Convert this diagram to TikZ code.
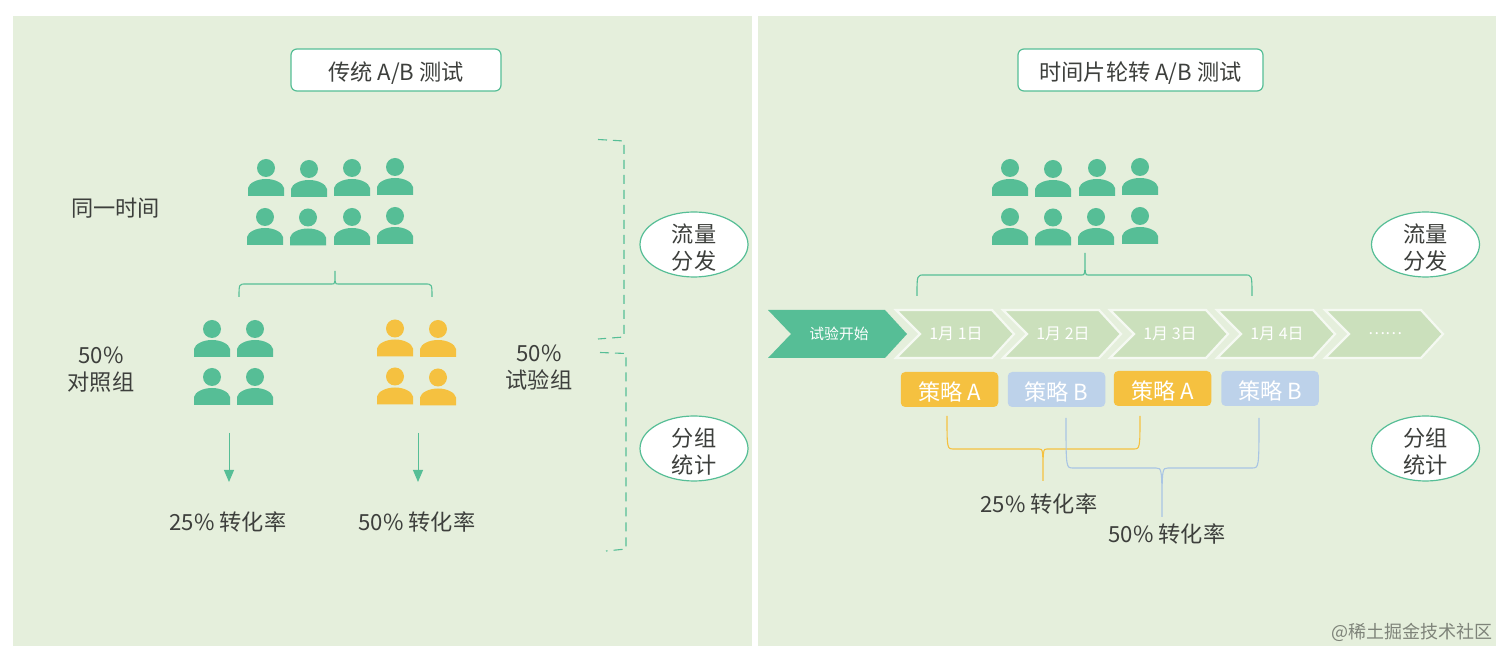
\documentclass[tikz,border=0pt]{standalone}
\usepackage{fontspec}
\setmainfont{Noto Sans CJK SC}
\usetikzlibrary{shapes.geometric,calc,arrows.meta}
\definecolor{panelbg}{HTML}{E5EFDC}
\definecolor{pgreen}{HTML}{56BE96}
\definecolor{pyellow}{HTML}{F5C140}
\definecolor{pblue}{HTML}{BDD2EA}
\definecolor{lineblue}{HTML}{A9C5E4}
\definecolor{chevlight}{HTML}{CBE0BC}
\definecolor{ink}{HTML}{3D3F3C}
\newcommand{\low}[1]{\rule{0pt}{#1pt}}
\tikzset{
  x=0.5pt,y=-0.5pt,
  person/.pic={
    \fill[pic actions] (0,-28) circle (9);
    \fill[pic actions] (-18,0) -- (-18,-8) .. controls (-17,-13) and (-9,-17) .. (0,-17)
      .. controls (9,-17) and (17,-13) .. (18,-8) -- (18,0) -- cycle;
  },
  panel/.style={fill=panelbg,draw=none},
  titlebox/.style={draw=pgreen,line width=0.6pt,fill=white,rounded corners=3pt,inner sep=0pt,text=ink,font=\fontsize{11.1}{13}\selectfont,minimum height=21pt},
  bubble/.style={draw=pgreen,line width=0.6pt,fill=white,ellipse,minimum width=54pt,minimum height=32.5pt,inner xsep=0pt,inner ysep=-2.5pt,align=center,text=ink,font=\fontsize{11.1}{13.5}\selectfont},
  label/.style={text=ink,inner sep=0pt,align=center,font=\fontsize{11.1}{13.5}\selectfont},
  chevtext/.style={text=white,inner sep=0pt,font=\fontsize{8}{9}\selectfont},
  chevlightstyle/.style={fill=chevlight,draw=white!80!chevlight,line width=1.1pt,line join=miter},
  chevstart/.style={fill=pgreen,draw=none},
  plan/.style={rounded corners=2.2pt,inner sep=0pt,minimum width=48.75pt,minimum height=17.5pt,text=white,font=\fontsize{11.1}{13}\selectfont},
  bracegreen/.style={draw=pgreen,line width=0.55pt},
  braceyellow/.style={draw=pyellow,line width=0.55pt},
  braceblue/.style={draw=lineblue,line width=0.55pt},
  dashline/.style={draw=pgreen,line width=0.55pt,dash pattern=on 4.5pt off 3pt},
  downarrow/.style={draw=pgreen,line width=0.5pt,-{Triangle[length=6pt,width=5pt]}},
}
% #1 name, #2 style, #3 left x, #4 right x, #5 tip x, #6 bar y, #7 ends y, #8 tip y, #9 flare
\newcommand{\curly}[9]{%
  \coordinate (#1L) at (#3,#7);
  \coordinate (#1R) at (#4,#7);
  \coordinate (#1M) at (#5,#6);
  \coordinate (#1T) at (#5,#8);
  \draw[#2] (#1L) .. controls (#1L|-#1M) and (#1L|-#1M) .. ($(#1L|-#1M)+(7,0)$)
    -- ($(#1M)+(-#9,0)$) .. controls (#1M) and (#1M) .. (#1T)
    .. controls (#1M) and (#1M) .. ($(#1M)+(#9,0)$)
    -- ($(#1R|-#1M)+(-7,0)$) .. controls (#1R|-#1M) and (#1R|-#1M) .. (#1R);
}
\newcommand{\chev}[4]{%
  \draw[#2] (#3,310) -- (#3+96,310) -- (#3+118,334) -- (#3+96,358) -- (#3,358) -- (#3+24,334) -- cycle;
  \node[chevtext] (#1) at (#3+60,333.5) {#4};
}
\begin{document}
\begin{tikzpicture}
\useasboundingbox (0,0) rectangle (1512,662);
\fill[white] (0,0) rectangle (1512,662);
\fill[panel] (13,16) rectangle (752,646);
\fill[panel] (758,16) rectangle (1496,646);
% titles
\node[titlebox,minimum width=105pt] (titleL) at (396,70) {\low{12.2}传统 A/B 测试};
\node[titlebox,minimum width=122.5pt] (titleR) at (1140.5,70) {\low{12.2}时间片轮转 A/B 测试};
% people
\foreach \px/\py in {266/196,309/197,352/196,395/195,265/245,308/245.5,352/245,395/244,
  212/357,255/357,212/405,255/405,
  1010/196,1053/197,1097/196,1140/195,1010/245,1053/245.5,1096/245,1140/244}
  {\pic[fill=pgreen] at (\px,\py) {person};}
\foreach \px/\py in {395/356.5,438/357,395/404.5,438/405.5}
  {\pic[fill=pyellow] at (\px,\py) {person};}
% labels left
\node[label] (sametime) at (115.5,208) {同一时间};
\node[label] (ctrl) at (101,369.5) {50\%\\对照组};
\node[label] (test) at (539,367.5) {50\%\\试验组};
\node[label] (rateA) at (228,522) {25\% 转化率};
\node[label] (rateB) at (417,522) {50\% 转化率};
% braces
\curly{bg}{bracegreen}{239}{432}{335}{284}{297}{271}{3}
\curly{br}{bracegreen}{917}{1252}{1085}{275}{296}{253}{3}
% arrows
\coordinate (a1s) at (229,433);
\coordinate (a1e) at (229,482);
\coordinate (a2s) at (418,433);
\coordinate (a2e) at (418,482);
\draw[downarrow] (a1s) -- (a1e);
\draw[downarrow] (a2s) -- (a2e);
% dashed brackets
\coordinate (d1a) at (598,139.5);
\coordinate (d1b) at (624,141);
\coordinate (d1c) at (624,337);
\coordinate (d1d) at (598,339);
\coordinate (d2a) at (600,352.5);
\coordinate (d2b) at (626,353.5);
\coordinate (d2c) at (626,549);
\coordinate (d2d) at (606,551);
\draw[dashline] (d1a) -- (d1b) -- (d1c) -- (d1d);
\draw[dashline] (d2a) -- (d2b) -- (d2c) -- (d2d);
% bubbles
\node[bubble] (flowL) at (694,244.5) {\low{12.2}流量\\分发};
\node[bubble] (statL) at (694,448.5) {\low{12.2}分组\\统计};
\node[bubble] (flowR) at (1425.5,244.5) {\low{12.2}流量\\分发};
\node[bubble] (statR) at (1425.5,448.5) {\low{12.2}分组\\统计};
% chevrons
\fill[chevstart] (768,310) -- (885,310) -- (907,334) -- (885,358) -- (768,358) -- (791,334) -- cycle;
\node[chevtext,font=\fontsize{7.4}{9}\selectfont] (start) at (839,333.5) {试验开始};
\chev{d1}{chevlightstyle}{896}{1月 1日}
\chev{d2}{chevlightstyle}{1003}{1月 2日}
\chev{d3}{chevlightstyle}{1110}{1月 3日}
\chev{d4}{chevlightstyle}{1217}{1月 4日}
\chev{d5}{chevlightstyle}{1325}{……}
% plans
\node[plan,fill=pyellow] (pa1) at (949.5,389.5) {\low{11.5}策略 A};
\node[plan,fill=pblue] (pb1) at (1056.5,389.5) {\low{11.5}策略 B};
\node[plan,fill=pyellow] (pa2) at (1162.5,388.5) {\low{11.5}策略 A};
\node[plan,fill=pblue] (pb2) at (1270,388.5) {\low{11.5}策略 B};
% rate braces
\curly{by}{braceyellow}{947}{1140}{1043}{449}{416}{481}{4}
\curly{bb}{braceblue}{1066}{1259}{1162}{468}{418}{517}{6}
\node[label] (rateRa) at (1039,504) {25\% 转化率};
\node[label] (rateRb) at (1167,534) {50\% 转化率};
% watermark
\node[inner sep=0pt,anchor=east,text=black!45!panelbg,font=\fontsize{9}{11}\selectfont] (mark) at (1493,632) {@稀土掘金技术社区};
\end{tikzpicture}
\end{document}
